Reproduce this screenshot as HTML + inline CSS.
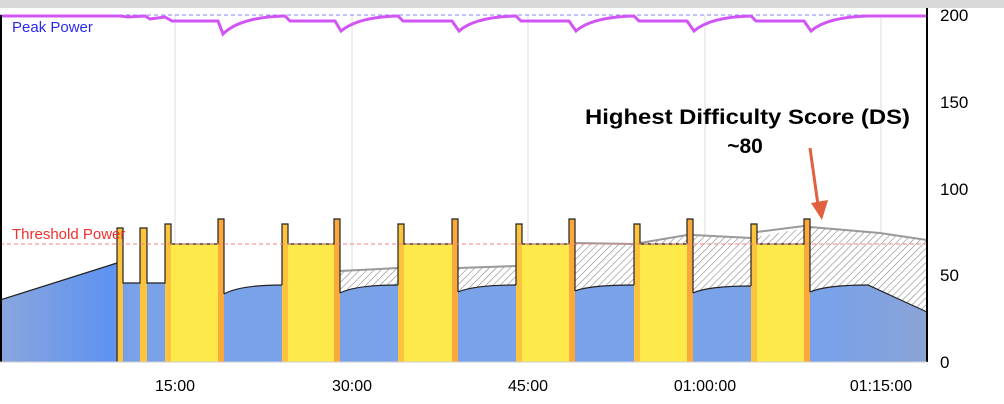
<!DOCTYPE html><html><head><style>body{margin:0;background:#fff}svg{display:block;font-family:"Liberation Sans",sans-serif}</style></head><body>
<svg width="1004" height="404" viewBox="0 0 1004 404">
<defs>
<pattern id="h" width="5" height="5" patternUnits="userSpaceOnUse" patternTransform="rotate(45)"><rect width="5" height="5" fill="#fff"/><line x1="0" y1="0" x2="0" y2="5" stroke="#888" stroke-width="1.2"/></pattern>
<linearGradient id="bg" x1="0" x2="1"><stop offset="0" stop-color="#8aa6dc"/><stop offset="0.12" stop-color="#5e92f2"/><stop offset="0.14" stop-color="#7aa2e8"/><stop offset="0.9" stop-color="#7aa2e8"/><stop offset="1" stop-color="#8aa3d6"/></linearGradient>
</defs>
<rect x="0" y="0" width="1004" height="8" fill="#d9d9d9"/>
<g stroke="#ddd" stroke-width="1"><line x1="175" y1="15" x2="175" y2="362"/><line x1="352" y1="15" x2="352" y2="362"/><line x1="528" y1="15" x2="528" y2="362"/><line x1="705" y1="15" x2="705" y2="362"/><line x1="881" y1="15" x2="881" y2="362"/></g>
<path d="M340 271 L398 268 L458 268 L516 266 L575 243 L634 244 L687 235 L751 238 L810 227 L880 233 L927 240 L927 312 L868 285 L810 292 L810 362 L340 362Z" fill="url(#h)" stroke="none"/>
<path d="M340 271 L398 268 M458 268 L516 266 M575 243 L634 244 M640 243 L687 235 M693 235 L751 238 M757 232 L804 226 M810 227 L880 233 L927 240" stroke="#999" stroke-width="2" fill="none"/>
<path d="M0 300 L117 263 L117 283 L165 283 L165 362 L0 362Z M224 294 Q240 285 282 285 L282 362 L224 362Z M340 293 Q356 285 398 285 L398 362 L340 362Z M458 292 Q474 285 516 285 L516 362 L458 362Z M575 291 Q590 285 634 285 L634 362 L575 362Z M693 293 Q708 286 751 286 L751 362 L693 362Z M810 292 Q826 285 868 285 L927 312 L927 362 L810 362Z" fill="url(#bg)"/>
<path d="M0 300 L117 263 M224 294 Q240 285 282 285 M340 293 Q356 285 398 285 M458 292 Q474 285 516 285 M575 291 Q590 285 634 285 M693 293 Q708 286 751 286 M810 292 Q826 285 868 285 L927 312" stroke="#222" stroke-width="1.2" fill="none"/>
<g>
<rect x="117" y="228" width="6" height="134" fill="#fcc43c"/><rect x="140" y="228" width="7" height="134" fill="#fcc43c"/>
<rect x="165" y="224" width="6" height="138" fill="#fcc43c"/><rect x="171" y="244" width="47" height="118" fill="#fdea4a"/><rect x="218" y="219" width="6" height="143" fill="#fba93a"/>
<rect x="282" y="224" width="6" height="138" fill="#fcc43c"/><rect x="288" y="244" width="46" height="118" fill="#fdea4a"/><rect x="334" y="219" width="6" height="143" fill="#fba93a"/>
<rect x="398" y="224" width="6" height="138" fill="#fcc43c"/><rect x="404" y="244" width="48" height="118" fill="#fdea4a"/><rect x="452" y="219" width="6" height="143" fill="#fba93a"/>
<rect x="516" y="224" width="6" height="138" fill="#fcc43c"/><rect x="522" y="244" width="47" height="118" fill="#fdea4a"/><rect x="569" y="219" width="6" height="143" fill="#fba93a"/>
<rect x="634" y="224" width="6" height="138" fill="#fcc43c"/><rect x="640" y="244" width="47" height="118" fill="#fdea4a"/><rect x="687" y="219" width="6" height="143" fill="#fba93a"/>
<rect x="751" y="224" width="6" height="138" fill="#fcc43c"/><rect x="757" y="244" width="47" height="118" fill="#fdea4a"/><rect x="804" y="219" width="6" height="143" fill="#fba93a"/>
</g>
<g stroke="#222" stroke-width="1.2" fill="none">
<path d="M117 362 V228 H123 V283 H140 V228 H147 V283 H165 V224 H171 V244 H218 V219 H224 V294"/>
<path d="M282 285 V224 H288 V244 H334 V219 H340 V293"/>
<path d="M398 285 V224 H404 V244 H452 V219 H458 V292"/>
<path d="M516 285 V224 H522 V244 H569 V219 H575 V291"/>
<path d="M634 285 V224 H640 V244 H687 V219 H693 V293"/>
<path d="M751 286 V224 H757 V244 H804 V219 H810 V292"/>
</g>
<line x1="0" y1="244" x2="927" y2="244" stroke="#f08080" stroke-width="1" stroke-dasharray="4,3"/>
<line x1="0" y1="15" x2="927" y2="15" stroke="#8080ff" stroke-width="1" stroke-dasharray="4,3"/>
<path d="M0 16 L120 16 L128 17 L145 16 L150 19 L165 17 L172 21 L218 21 L223 34 Q240 17 285 16 L290 21 L335 21 L341 31 Q358 17 398 16 L403 21 L452 21 L459 31 Q475 17 516 16 L521 21 L569 21 L576 31 Q592 17 634 16 L639 21 L687 21 L694 31 Q710 17 751 16 L756 21 L804 21 L811 31 Q827 17 868 16 L927 16" stroke="#d155f5" stroke-width="3" fill="none"/>
<line x1="1" y1="15" x2="1" y2="362" stroke="#000" stroke-width="2"/>
<line x1="927" y1="8" x2="927" y2="362" stroke="#000" stroke-width="2"/>
<line x1="0" y1="362" x2="927" y2="362" stroke="#ccc" stroke-width="1"/>
<text x="12" y="32" fill="#2a2af0" font-size="15">Peak Power</text>
<text x="12" y="239" fill="#f03030" font-size="15">Threshold Power</text>
<g font-size="17" fill="#000"><text x="940" y="21">200</text><text x="940" y="108">150</text><text x="940" y="195">100</text><text x="940" y="281">50</text><text x="940" y="368">0</text></g>
<g font-size="16" fill="#000" text-anchor="middle"><text x="175" y="391">15:00</text><text x="352" y="391">30:00</text><text x="528" y="391">45:00</text><text x="705" y="391">01:00:00</text><text x="881" y="391">01:15:00</text></g>
<g font-size="21" font-weight="bold"><text x="585" y="124" textLength="325" lengthAdjust="spacingAndGlyphs">Highest Difficulty Score (DS)</text><text x="745" y="153" text-anchor="middle">~80</text></g>
<line x1="810" y1="148" x2="818" y2="205" stroke="#e06040" stroke-width="3"/>
<polygon points="811,203 828,200 822,220" fill="#e06040"/>
</svg></body></html>
